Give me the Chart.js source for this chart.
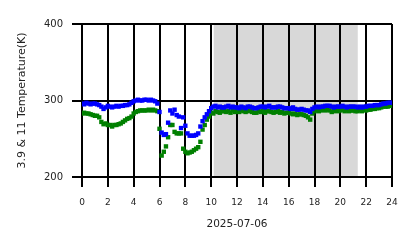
<!DOCTYPE html>
<html>
<head>
<meta charset="utf-8">
<script src="https://cdn.jsdelivr.net/npm/chart.js@4"></script>
<style>
  html, body { margin: 0; padding: 0; background: #fff; }
  #wrap { width: 418px; height: 248px; }
</style>
</head>
<body>
<div id="wrap"><canvas id="tempChart" width="418" height="248"></canvas></div>
<script>
// 10-minute samples, 00:00 .. 24:00
const blueTemps = [
  296, 295, 297, 296, 295, 296,
  296, 295, 294, 292, 289, 291,
  293, 292, 291, 292, 293, 292,
  293, 293, 294, 294, 295, 297,
  299, 300, 301, 300, 300, 301,
  301, 300, 301, 300, 299, 296,
  285, 258, 255, 256, 271, 287,
  283, 288, 281, 279, 264, 278,
  267, 257, 254, 254, 254, 255,
  257, 266, 273, 278, 282, 286,
  290, 292, 293, 291, 292, 291,
  291, 292, 293, 291, 292, 291,
  291, 290, 292, 291, 290, 292,
  292, 291, 290, 290, 291, 292,
  292, 291, 292, 293, 291, 291,
  291, 292, 292, 291, 290, 290,
  290, 289, 291, 289, 288, 288,
  289, 288, 287, 287, 285, 289,
  291, 292, 291, 292, 292, 293,
  293, 293, 292, 291, 292, 292,
  292, 293, 292, 291, 292, 292,
  292, 292, 291, 292, 291, 292,
  292, 293, 293, 293, 294, 294,
  294, 295, 296, 296, 297, 297,
  297
];
const greenTemps = [
  283, 284, 283, 283, 282, 281,
  280, 280, 278, 272, 269, 270,
  268, 268, 266, 268, 268, 269,
  270, 272, 274, 276, 277, 279,
  283, 285, 286, 287, 287, 287,
  287, 288, 287, 288, 287, 286,
  263, 228, 233, 240, 252, 268,
  268, 259, 257, 257, 257, 237,
  233, 231, 232, 233, 235, 237,
  239, 246, 262, 268, 275, 279,
  284, 283, 286, 285, 284, 286,
  286, 285, 286, 284, 287, 285,
  286, 285, 287, 286, 285, 286,
  287, 285, 284, 284, 286, 285,
  286, 284, 286, 286, 285, 284,
  285, 286, 284, 285, 283, 284,
  284, 283, 282, 283, 281, 282,
  282, 281, 280, 278, 275, 283,
  286, 287, 286, 287, 288, 287,
  288, 287, 285, 286, 287, 286,
  287, 288, 286, 287, 286, 287,
  287, 286, 286, 287, 286, 288,
  287, 288, 288, 289, 289, 290,
  290, 291, 292, 292, 292, 293,
  293
];
const sampleHours = blueTemps.map((_, i) => i / 6);

const yTickValues = [200, 300, 400];
const shadeStart = 10.2;
const shadeEnd = 21.35;
const dateLabel = '2025-07-06';
const yLabel = '3.9 & 11 Temperature(K)';

const toPoints = (temps) => temps.map((t, i) => ({ x: sampleHours[i], y: t }));

// grey band behind the grid
const shadePlugin = {
  id: 'shade',
  beforeDraw(chart) {
    const { ctx, chartArea, scales } = chart;
    const x0 = scales.x.getPixelForValue(shadeStart);
    const x1 = scales.x.getPixelForValue(shadeEnd);
    ctx.save();
    ctx.fillStyle = '#d8d8d8';
    ctx.fillRect(x0, chartArea.top, x1 - x0, chartArea.bottom - chartArea.top);
    ctx.restore();
  }
};

new Chart(document.getElementById('tempChart'), {
  type: 'scatter',
  data: {
    datasets: [
      {
        label: '3.9',
        data: toPoints(blueTemps),
        backgroundColor: '#0000ff',
        borderColor: '#0000ff',
        pointStyle: 'rect',
        pointRadius: 3.1,
        borderWidth: 0,
        order: 0
      },
      {
        label: '11',
        data: toPoints(greenTemps),
        backgroundColor: '#008000',
        borderColor: '#008000',
        pointStyle: 'rect',
        pointRadius: 3.1,
        borderWidth: 0,
        order: 1
      }
    ]
  },
  options: {
    responsive: false,
    animation: false,
    layout: { padding: { left: 10, right: 26, top: 24, bottom: 10 } },
    plugins: { legend: { display: false }, tooltip: { enabled: false } },
    scales: {
      x: {
        type: 'linear',
        min: 0,
        max: 24,
        grid: { color: '#000', lineWidth: 2, tickLength: 10 },
        border: { display: false },
        ticks: {
          stepSize: 2,
          padding: 10,
          color: '#222',
          font: { family: 'DejaVu Sans', size: 9 }
        },
        title: {
          display: true,
          text: dateLabel,
          color: '#222',
          padding: { top: 0, bottom: 7 },
          font: { family: 'DejaVu Sans', size: 10.5 }
        },
        afterFit(scale) { scale.height = 61; }
      },
      y: {
        min: 200,
        max: 400,
        afterBuildTicks(scale) { scale.ticks = yTickValues.map((v) => ({ value: v })); },
        grid: { color: '#000', lineWidth: 2, tickLength: 10 },
        border: { display: false },
        ticks: {
          padding: 9,
          color: '#222',
          font: { family: 'DejaVu Sans', size: 10 }
        },
        title: {
          display: true,
          text: yLabel,
          color: '#222',
          padding: { top: 6, bottom: 0 },
          font: { family: 'DejaVu Sans', size: 11 }
        },
        afterFit(scale) { scale.width = 72; }
      }
    }
  },
  plugins: [shadePlugin]
});
</script>
</body>
</html>
